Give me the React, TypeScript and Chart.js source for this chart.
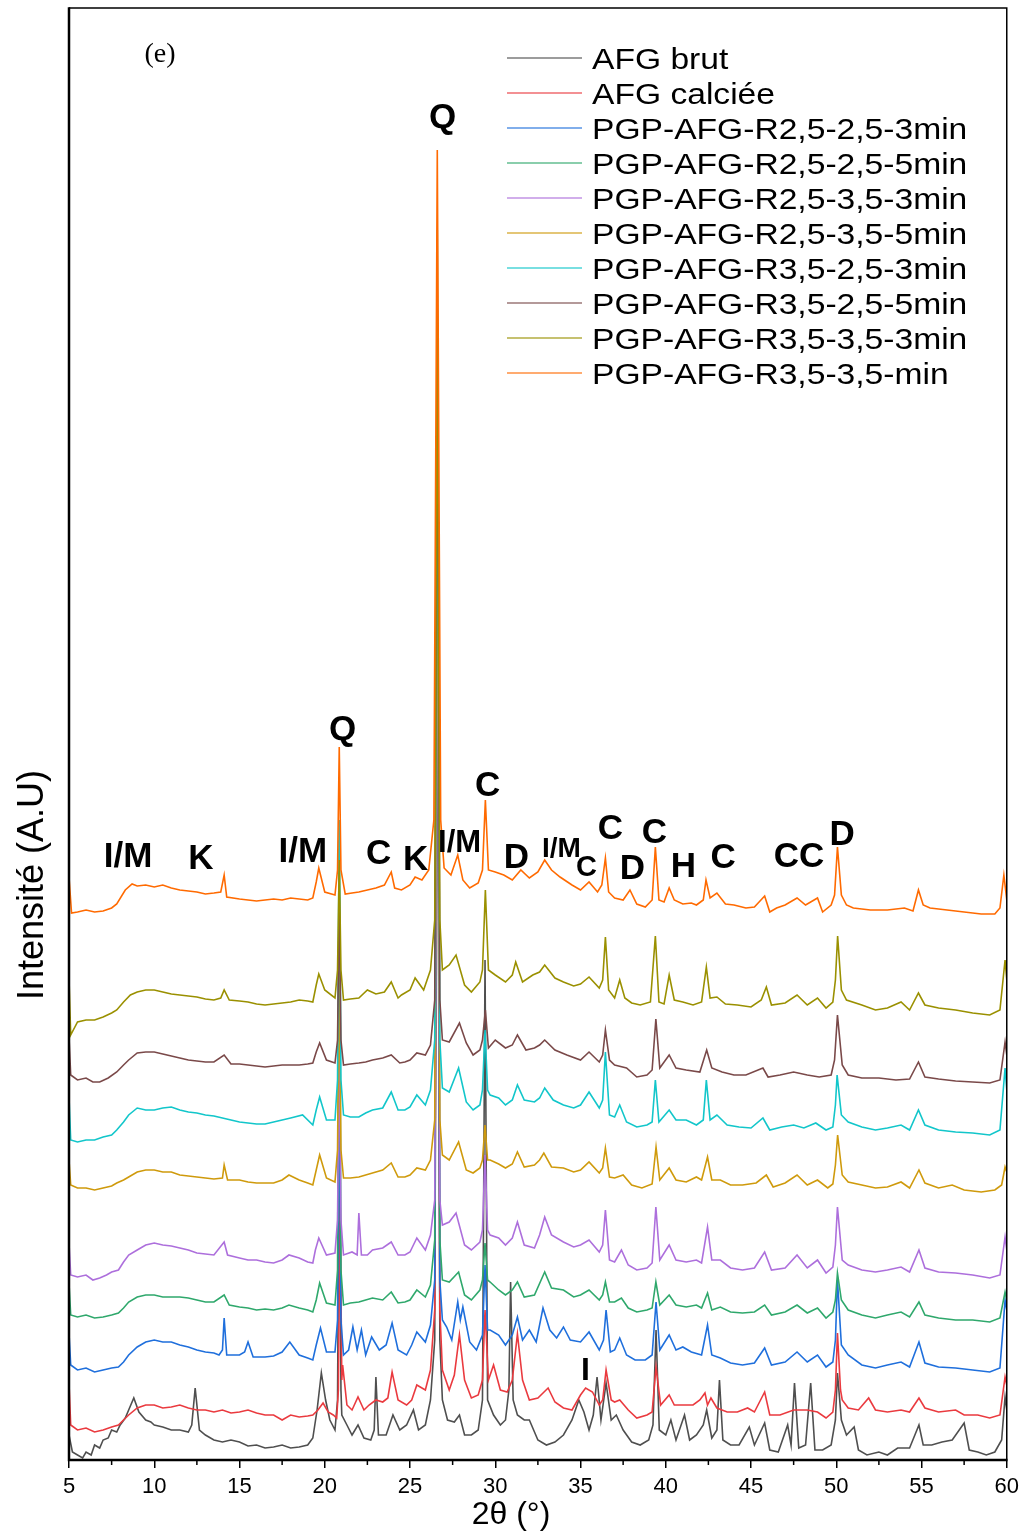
import React, { useEffect, useRef } from 'react';
import { Chart, registerables } from 'chart.js';

Chart.register(...registerables);

// ---------- axis / labels ----------
const X_MIN = 5;
const X_MAX = 60;
const X_STEP = 5;
const X_MINOR = [7.5, 12.5, 17.5, 22.5, 27.5, 32.5, 37.5, 42.5, 47.5, 52.5, 57.5];
const Y_MIN = 0;
const Y_MAX = 1452;
const X_TITLE = '2θ (°)';
const Y_TITLE = 'Intensité (A.U)';
const PANEL_TAG = '(e)';

const SERIES_NAMES = [
  'AFG brut',
  'AFG calciée',
  'PGP-AFG-R2,5-2,5-3min',
  'PGP-AFG-R2,5-2,5-5min',
  'PGP-AFG-R2,5-3,5-3min',
  'PGP-AFG-R2,5-3,5-5min',
  'PGP-AFG-R3,5-2,5-3min',
  'PGP-AFG-R3,5-2,5-5min',
  'PGP-AFG-R3,5-3,5-3min',
  'PGP-AFG-R3,5-3,5-min',
];

const SERIES_COLORS = [
  '#4f4f4f', '#ea3a3f', '#1f6fdc', '#2fa86c', '#ad6fdc',
  '#cf9a0c', '#12c6ca', '#7a4949', '#9a9000', '#ff6a00',
];

// ---------- diffractograms: [2theta, intensity (stacked, a.u.)] ----------
const AFG_BRUT: [number, number][] = [
  [5.0,25],[5.2,8],[5.5,5],[5.8,2],[6.0,8],[6.3,5],[6.5,15],[6.8,12],[7.0,20],[7.3,22],[7.5,30],[7.8,28],[8.0,35],[8.3,42],[8.5,50],[8.8,62],[9.1,48],[9.5,40],[9.8,38],[10.0,35],[10.5,33],[11.0,30],[11.5,30],[12.0,28],[12.2,35],[12.4,72],[12.65,30],[13.0,25],[13.5,20],[14.0,18],[14.5,20],[15.0,18],[15.5,14],[16.0,15],[16.5,12],[17.0,13],[17.5,15],[18.0,12],[18.5,13],[19.0,15],[19.3,22],[19.55,50],[19.8,87],[20.05,60],[20.3,40],[20.6,30],[20.75,60],[20.85,330],[20.95,70],[21.0,45],[21.3,35],[21.6,25],[21.95,35],[22.3,22],[22.7,20],[22.9,30],[23.0,83],[23.15,25],[23.6,25],[24.0,45],[24.4,30],[24.8,35],[25.2,50],[25.5,30],[25.9,35],[26.2,60],[26.45,120],[26.6,880],[26.75,120],[26.9,60],[27.2,40],[27.6,38],[27.9,45],[28.2,25],[28.6,25],[29.0,30],[29.25,60],[29.4,500],[29.55,60],[29.9,45],[30.3,35],[30.6,40],[30.8,70],[30.9,178],[31.05,60],[31.3,45],[31.7,40],[32.0,40],[32.5,20],[33.0,15],[33.5,18],[34.0,25],[34.5,40],[34.9,60],[35.2,48],[35.5,30],[35.75,45],[35.97,83],[36.2,40],[36.5,77],[36.8,40],[37.1,45],[37.5,30],[38.0,18],[38.5,15],[39.0,20],[39.25,35],[39.43,130],[39.62,30],[40.0,25],[40.3,40],[40.6,20],[41.1,45],[41.4,20],[41.8,25],[42.2,35],[42.4,50],[42.7,22],[43.0,30],[43.15,80],[43.35,20],[43.8,15],[44.3,15],[44.9,33],[45.2,15],[45.8,37],[46.1,10],[46.6,8],[47.15,35],[47.35,15],[47.55,77],[47.8,12],[48.2,15],[48.5,77],[48.75,10],[49.2,10],[49.7,15],[49.95,40],[50.07,87],[50.3,40],[50.6,25],[51.05,33],[51.3,10],[51.8,5],[52.5,8],[53.0,5],[53.6,12],[54.3,12],[54.85,35],[55.1,15],[55.6,15],[56.2,18],[56.8,20],[57.5,37],[57.8,10],[58.3,8],[58.8,5],[59.3,8],[59.7,20],[59.9,63],[60,50],
];

const AFG_CALCIEE: [number, number][] = [
  [5.0,77],[5.1,35],[5.5,30],[6.0,32],[6.5,28],[7.0,30],[7.5,33],[7.9,35],[8.2,40],[8.5,45],[9.0,52],[9.5,55],[10.0,55],[10.5,52],[11.0,53],[11.5,55],[12.0,52],[12.5,50],[13.0,50],[13.5,48],[14.0,50],[14.5,47],[15.0,48],[15.5,50],[16.0,47],[16.5,45],[17.0,45],[17.5,40],[18.0,45],[18.5,43],[19.0,44],[19.3,45],[19.6,50],[19.9,57],[20.2,48],[20.5,45],[20.7,42],[20.8,70],[20.9,267],[21.0,80],[21.05,95],[21.3,55],[21.6,50],[21.95,63],[22.3,50],[22.6,55],[23.0,60],[23.4,58],[23.7,62],[23.95,88],[24.3,60],[24.8,55],[25.1,60],[25.4,75],[25.9,70],[26.2,90],[26.45,150],[26.6,950],[26.75,150],[26.9,90],[27.3,70],[27.6,85],[27.9,125],[28.2,80],[28.6,62],[29.0,65],[29.25,80],[29.4,150],[29.6,80],[29.9,95],[30.3,70],[30.7,68],[31.0,80],[31.3,126],[31.6,80],[32.0,60],[32.5,62],[33.1,72],[33.5,58],[34.0,52],[34.5,50],[35.0,65],[35.3,72],[35.7,68],[36.1,55],[36.3,60],[36.5,90],[36.8,60],[37.0,58],[37.3,60],[37.8,50],[38.3,42],[38.9,45],[39.2,48],[39.43,93],[39.7,55],[40.2,65],[40.5,55],[41.0,55],[41.6,55],[42.0,60],[42.3,67],[42.45,55],[42.65,62],[43.0,52],[43.6,48],[44.2,48],[44.8,52],[45.2,48],[45.8,68],[46.1,45],[46.7,45],[47.5,50],[48.3,50],[48.9,48],[49.4,42],[49.8,48],[49.95,70],[50.07,127],[50.25,70],[50.35,60],[50.7,52],[51.3,50],[51.9,62],[52.3,50],[53.0,48],[53.8,50],[54.3,48],[54.85,62],[55.2,52],[56.0,48],[57.0,50],[57.5,45],[58.3,45],[59.0,42],[59.6,45],[59.9,83],[60,75],
];

const R25_25_3: [number, number][] = [
  [5.0,127],[5.1,95],[5.5,90],[6.0,92],[6.5,88],[7.0,90],[7.5,92],[7.9,93],[8.2,98],[8.5,105],[9.0,113],[9.5,118],[10.0,120],[10.5,118],[11.0,118],[11.5,115],[12.0,113],[12.5,110],[13.0,108],[13.5,107],[13.8,105],[14.0,110],[14.1,142],[14.25,105],[15.0,105],[15.3,108],[15.5,118],[15.8,103],[16.5,103],[17.0,104],[17.5,108],[17.95,118],[18.5,105],[19.0,102],[19.3,100],[19.5,115],[19.75,132],[20.1,108],[20.6,108],[20.75,140],[20.85,385],[20.95,140],[21.1,105],[21.4,110],[21.65,133],[21.9,110],[22.15,130],[22.4,105],[22.75,123],[23.2,110],[23.6,115],[23.95,137],[24.3,110],[24.8,105],[25.1,115],[25.4,128],[25.9,118],[26.2,135],[26.45,180],[26.6,1000],[26.75,180],[26.9,140],[27.15,133],[27.45,120],[27.8,158],[27.95,140],[28.1,153],[28.5,118],[28.9,110],[29.25,125],[29.4,195],[29.55,130],[29.7,130],[30.2,125],[30.6,115],[31.0,125],[31.3,143],[31.6,120],[32.0,130],[32.4,118],[32.8,152],[33.2,130],[33.6,122],[34.0,133],[34.4,120],[35.0,118],[35.5,128],[36.1,110],[36.35,120],[36.5,150],[36.75,108],[37.0,110],[37.3,122],[37.7,105],[38.2,100],[38.8,100],[39.2,105],[39.43,158],[39.65,110],[40.2,125],[40.6,110],[41.0,113],[41.5,108],[42.1,105],[42.45,135],[42.7,105],[43.2,102],[43.8,97],[44.5,95],[45.2,97],[45.8,112],[46.2,95],[47.0,98],[47.7,108],[48.3,98],[48.9,105],[49.4,93],[49.8,98],[49.95,120],[50.07,180],[50.3,115],[50.7,105],[51.5,95],[52.3,92],[53.0,95],[53.8,98],[54.3,93],[54.85,118],[55.2,97],[56.0,93],[57.0,92],[58.0,90],[59.0,88],[59.6,92],[59.9,160],[60,150],
];

const R25_25_5: [number, number][] = [
  [5.0,177],[5.1,145],[5.5,143],[6.0,145],[6.5,142],[7.0,143],[7.5,145],[7.9,147],[8.2,152],[8.5,158],[9.0,163],[9.5,165],[10.0,165],[10.5,163],[11.0,163],[11.5,163],[12.0,162],[12.5,160],[13.0,158],[13.5,158],[14.1,165],[14.4,155],[15.0,153],[15.5,152],[16.0,150],[16.5,151],[17.0,150],[17.5,152],[17.9,155],[18.5,152],[19.0,150],[19.3,148],[19.5,160],[19.7,177],[20.1,157],[20.6,155],[20.75,190],[20.85,620],[20.95,190],[21.1,155],[21.5,157],[22.0,158],[22.4,160],[22.8,162],[23.4,160],[23.9,168],[24.3,157],[24.7,158],[25.0,160],[25.4,170],[25.9,163],[26.2,175],[26.45,220],[26.6,1230],[26.75,220],[26.9,180],[27.3,178],[27.85,188],[28.2,165],[28.6,160],[29.1,170],[29.25,180],[29.4,217],[29.55,180],[29.7,178],[30.2,170],[30.6,165],[31.0,170],[31.3,178],[31.7,163],[32.3,165],[32.9,188],[33.3,172],[34.0,170],[34.6,163],[35.0,165],[35.5,170],[36.1,160],[36.3,165],[36.46,178],[36.7,158],[37.0,158],[37.4,162],[37.8,152],[38.3,148],[38.9,150],[39.2,152],[39.42,178],[39.65,155],[40.2,165],[40.6,155],[41.2,153],[41.8,155],[42.1,152],[42.45,167],[42.7,150],[43.2,153],[43.8,148],[44.5,147],[45.2,148],[45.8,155],[46.2,145],[47.0,148],[47.7,155],[48.3,147],[48.9,152],[49.4,142],[49.8,148],[49.95,160],[50.07,187],[50.3,160],[50.7,150],[51.5,145],[52.3,142],[53.0,145],[53.8,148],[54.3,143],[54.85,158],[55.2,145],[56.0,142],[57.0,140],[58.0,140],[59.0,138],[59.6,142],[59.9,168],[60,160],
];

const R25_35_3: [number, number][] = [
  [5.0,217],[5.1,185],[5.5,183],[6.0,185],[6.4,180],[6.8,182],[7.2,185],[7.5,188],[7.9,190],[8.2,198],[8.5,205],[9.0,210],[9.5,215],[10.0,217],[10.5,215],[11.0,214],[11.5,212],[12.0,210],[12.5,207],[13.0,206],[13.5,205],[14.1,218],[14.3,205],[15.0,202],[15.5,200],[16.0,200],[16.5,198],[17.0,197],[17.5,200],[17.9,205],[18.5,202],[19.0,198],[19.3,197],[19.45,210],[19.65,222],[20.1,205],[20.6,207],[20.75,240],[20.85,420],[20.95,240],[21.1,205],[21.6,208],[21.9,205],[22.0,247],[22.15,205],[22.5,205],[22.8,210],[23.4,212],[23.9,218],[24.3,205],[24.7,205],[25.0,208],[25.4,222],[25.9,210],[26.2,225],[26.45,260],[26.6,1000],[26.75,260],[26.9,235],[27.3,238],[27.7,247],[28.2,215],[28.6,210],[29.1,218],[29.25,230],[29.4,305],[29.55,230],[29.7,225],[30.2,222],[30.6,215],[31.0,222],[31.3,238],[31.7,215],[32.3,212],[32.6,225],[32.9,243],[33.3,225],[34.0,218],[34.6,213],[35.0,215],[35.5,220],[36.1,208],[36.3,215],[36.46,250],[36.7,200],[37.0,198],[37.4,210],[37.8,195],[38.3,190],[38.9,192],[39.2,197],[39.42,253],[39.65,200],[40.2,215],[40.6,200],[41.2,198],[41.8,200],[42.1,197],[42.45,233],[42.7,200],[43.2,200],[43.8,192],[44.5,190],[45.2,192],[45.8,208],[46.2,190],[47.0,192],[47.7,205],[48.3,192],[48.9,200],[49.4,187],[49.8,193],[49.95,215],[50.07,253],[50.35,200],[50.7,195],[51.5,190],[52.3,188],[53.0,190],[53.8,193],[54.3,188],[54.85,210],[55.2,192],[56.0,188],[57.0,187],[58.0,185],[59.0,182],[59.6,185],[59.9,223],[60,210],
];

const R25_35_5: [number, number][] = [
  [5.0,300],[5.1,275],[5.5,272],[6.0,272],[6.5,270],[7.0,272],[7.5,274],[7.8,277],[8.2,280],[8.5,283],[9.0,288],[9.5,290],[10.0,290],[10.5,288],[11.0,288],[11.5,285],[12.0,284],[12.5,283],[13.0,282],[13.5,281],[14.0,282],[14.1,295],[14.3,280],[15.0,280],[15.5,278],[16.0,277],[16.5,277],[17.0,277],[17.5,280],[17.9,285],[18.5,280],[19.0,277],[19.3,275],[19.5,290],[19.7,305],[20.1,282],[20.6,278],[20.75,310],[20.85,495],[20.95,310],[21.1,282],[21.5,282],[22.0,283],[22.4,285],[22.8,287],[23.4,290],[23.9,297],[24.3,283],[24.7,283],[25.0,285],[25.4,292],[25.9,290],[26.2,300],[26.45,340],[26.6,1000],[26.75,340],[26.9,305],[27.3,300],[27.85,318],[28.3,290],[28.7,287],[29.1,292],[29.25,300],[29.4,335],[29.55,300],[29.7,300],[30.2,296],[30.6,292],[31.0,296],[31.3,308],[31.7,293],[32.3,295],[32.6,300],[32.85,307],[33.3,293],[34.0,292],[34.6,288],[35.0,290],[35.5,298],[36.1,287],[36.3,292],[36.46,312],[36.7,283],[37.0,282],[37.5,285],[38.0,275],[38.6,272],[39.2,276],[39.43,313],[39.65,280],[40.2,292],[40.6,280],[41.2,278],[41.8,283],[42.1,280],[42.45,303],[42.7,280],[43.2,280],[43.8,275],[44.5,275],[45.3,277],[45.9,285],[46.3,273],[47.0,277],[47.7,285],[48.3,275],[48.9,280],[49.5,272],[49.8,276],[49.95,295],[50.08,325],[50.35,285],[50.7,278],[51.5,275],[52.3,272],[53.0,273],[53.8,278],[54.3,272],[54.85,290],[55.2,277],[56.0,272],[56.8,275],[57.5,270],[58.5,268],[59.3,270],[59.7,275],[59.9,293],[60,288],
];

const R35_25_3: [number, number][] = [
  [5.0,363],[5.1,320],[5.5,318],[6.0,320],[6.5,320],[7.0,323],[7.5,325],[7.8,330],[8.2,338],[8.5,345],[9.0,352],[9.5,350],[10.0,350],[10.5,352],[11.0,353],[11.5,350],[12.0,348],[12.5,347],[13.0,345],[13.5,344],[14.0,342],[14.5,340],[15.0,338],[15.5,337],[16.0,336],[16.5,336],[17.0,338],[17.5,340],[18.0,342],[18.7,345],[19.3,335],[19.5,350],[19.7,363],[20.1,340],[20.6,340],[20.75,380],[20.85,640],[20.95,380],[21.1,345],[21.5,343],[22.0,343],[22.4,347],[22.8,350],[23.4,352],[23.9,368],[24.3,350],[24.7,350],[25.0,353],[25.4,365],[25.9,355],[26.2,370],[26.45,420],[26.6,1100],[26.75,420],[26.9,372],[27.3,368],[27.85,392],[28.3,358],[28.7,350],[29.1,355],[29.25,370],[29.4,430],[29.55,370],[29.7,365],[30.2,362],[30.6,355],[31.0,360],[31.3,375],[31.7,360],[32.3,358],[32.6,362],[32.9,372],[33.4,360],[34.0,355],[34.6,352],[35.0,355],[35.5,368],[36.1,352],[36.3,360],[36.46,408],[36.7,345],[37.0,343],[37.3,355],[37.7,338],[38.3,333],[38.9,335],[39.2,338],[39.39,380],[39.6,338],[40.2,350],[40.6,340],[41.2,340],[41.8,335],[42.2,340],[42.38,380],[42.6,340],[43.0,345],[43.6,335],[44.3,333],[45.0,332],[45.7,342],[46.1,330],[46.8,333],[47.5,335],[48.1,332],[48.8,337],[49.4,330],[49.8,333],[49.95,355],[50.05,385],[50.3,345],[50.7,338],[51.5,333],[52.3,330],[53.0,332],[53.8,335],[54.3,330],[54.82,350],[55.2,335],[56.0,330],[57.0,328],[58.0,327],[59.0,325],[59.6,330],[59.9,392],[60,370],
];

const R35_25_5: [number, number][] = [
  [5.0,423],[5.1,385],[5.5,380],[6.0,382],[6.4,378],[6.8,378],[7.3,382],[7.8,388],[8.2,395],[8.5,400],[9.0,407],[9.5,408],[10.0,408],[10.5,406],[11.0,404],[11.5,402],[12.0,400],[12.5,399],[13.0,398],[13.5,398],[14.1,405],[14.5,396],[15.0,396],[15.5,395],[16.0,394],[16.5,393],[17.0,394],[17.5,395],[18.0,395],[18.5,395],[19.0,396],[19.3,397],[19.5,408],[19.7,417],[20.1,400],[20.6,397],[20.75,420],[20.85,563],[20.95,420],[21.1,395],[21.5,396],[22.0,397],[22.4,398],[22.8,400],[23.4,402],[23.9,405],[24.4,397],[24.7,398],[25.0,400],[25.4,407],[25.9,405],[26.2,415],[26.45,460],[26.6,1150],[26.75,460],[26.9,420],[27.3,418],[27.9,437],[28.3,417],[28.7,405],[29.1,410],[29.25,420],[29.42,450],[29.6,412],[30.0,420],[30.6,412],[31.0,415],[31.3,425],[31.8,410],[32.3,412],[32.6,415],[32.9,420],[33.5,410],[34.2,405],[35.0,400],[35.5,408],[36.1,398],[36.3,405],[36.46,430],[36.7,400],[37.0,395],[37.7,392],[38.3,383],[38.9,385],[39.2,390],[39.42,441],[39.65,392],[40.2,405],[40.6,392],[41.2,390],[42.0,388],[42.4,410],[42.7,392],[43.3,388],[44.0,385],[44.7,385],[45.7,392],[46.0,383],[46.7,385],[47.5,388],[48.3,385],[49.0,383],[49.7,385],[49.9,400],[50.07,445],[50.35,395],[50.7,385],[51.5,382],[52.5,382],[53.5,380],[54.3,381],[54.82,398],[55.2,383],[56.0,381],[57.0,379],[58.0,378],[59.0,377],[59.6,380],[59.9,418],[60,405],
];

const R35_35_3: [number, number][] = [
  [5.0,482],[5.1,425],[5.5,438],[6.0,440],[6.5,440],[7.0,443],[7.5,447],[7.8,450],[8.2,458],[8.6,465],[9.0,468],[9.5,470],[10.0,470],[10.5,468],[11.0,466],[11.5,465],[12.0,464],[12.5,463],[13.0,461],[13.5,460],[13.9,462],[14.1,470],[14.4,460],[15.0,459],[15.5,458],[16.0,456],[16.5,455],[17.0,456],[17.5,457],[18.0,458],[18.5,460],[19.0,459],[19.3,458],[19.5,475],[19.65,486],[20.0,470],[20.6,462],[20.75,490],[20.85,600],[20.95,490],[21.1,460],[21.5,461],[22.0,462],[22.5,470],[23.0,466],[23.5,468],[23.9,478],[24.3,462],[24.5,465],[25.0,470],[25.3,482],[25.8,470],[26.2,490],[26.45,540],[26.6,1150],[26.75,540],[26.9,490],[27.3,495],[27.7,505],[28.2,475],[28.6,468],[29.1,478],[29.25,490],[29.42,570],[29.6,490],[30.0,485],[30.6,478],[31.0,485],[31.2,498],[31.6,478],[32.2,485],[32.6,488],[32.9,495],[33.5,482],[34.0,478],[34.6,474],[35.0,476],[35.5,483],[36.1,472],[36.3,480],[36.46,523],[36.65,470],[37.0,462],[37.3,480],[37.6,462],[38.0,457],[38.5,455],[39.1,458],[39.39,524],[39.6,458],[39.9,456],[40.2,485],[40.5,460],[41.0,458],[41.6,455],[42.1,458],[42.38,493],[42.6,462],[43.0,463],[43.5,456],[44.2,455],[45.0,453],[45.6,460],[45.9,473],[46.2,455],[47.0,457],[47.7,465],[48.3,455],[48.9,462],[49.4,452],[49.8,458],[49.95,480],[50.08,524],[50.3,470],[50.6,460],[51.5,455],[52.3,450],[53.0,452],[53.8,458],[54.3,450],[54.82,467],[55.2,455],[56.0,452],[57.0,450],[58.0,447],[59.0,445],[59.6,450],[59.9,500],[60,480],
];

const R35_35_MIN: [number, number][] = [
  [5.0,583],[5.15,547],[5.5,548],[6.0,550],[6.5,548],[7.0,549],[7.5,552],[7.8,556],[8.3,570],[8.7,576],[9.0,574],[9.5,575],[10.0,573],[10.5,575],[11.0,572],[11.5,570],[12.0,569],[12.5,568],[13.0,566],[13.5,567],[13.9,568],[14.1,585],[14.25,563],[15.0,561],[15.5,560],[16.0,559],[16.5,560],[17.0,561],[17.5,560],[18.0,562],[18.5,561],[19.0,560],[19.3,562],[19.5,578],[19.65,592],[20.0,568],[20.6,565],[20.75,590],[20.85,713],[20.95,590],[21.2,566],[21.6,567],[22.0,568],[22.5,570],[23.0,572],[23.5,575],[23.9,588],[24.1,572],[24.5,570],[25.0,575],[25.3,583],[25.7,580],[26.1,590],[26.4,640],[26.6,1310],[26.8,640],[27.0,592],[27.4,585],[27.8,605],[28.1,580],[28.5,572],[29.0,577],[29.25,590],[29.42,660],[29.6,590],[30.0,588],[30.5,585],[31.0,580],[31.5,590],[32.0,582],[32.5,588],[32.9,600],[33.3,590],[33.8,583],[34.5,575],[35.0,570],[35.5,578],[36.0,568],[36.25,575],[36.46,602],[36.65,568],[37.0,562],[37.5,560],[37.9,570],[38.3,556],[38.8,553],[39.2,560],[39.39,613],[39.6,560],[39.9,558],[40.2,572],[40.5,560],[41.0,556],[41.5,557],[41.8,555],[42.2,560],[42.36,580],[42.6,562],[43.0,567],[43.5,556],[44.0,555],[44.7,552],[45.2,553],[45.8,564],[46.1,548],[46.5,552],[47.0,555],[47.7,562],[48.2,555],[48.9,562],[49.2,548],[49.7,555],[49.9,565],[50.07,613],[50.3,565],[50.6,555],[51.0,552],[52.0,550],[53.0,550],[54.0,552],[54.5,549],[54.82,570],[55.1,555],[55.5,552],[56.5,550],[57.5,548],[58.5,546],[59.3,546],[59.6,552],[59.83,585],[60,560],
];

// ---------- phase labels: [text, 2theta, intensity, font size] ----------
const PHASE_LABELS: [string, number, number, number][] = [
  ['Q', 26.91, 1342, 35],
  ['Q', 21.05, 730, 35],
  ['C', 29.55, 674, 35],
  ['I/M', 8.46, 603, 35],
  ['K', 12.73, 601, 35],
  ['I/M', 18.71, 608, 35],
  ['C', 23.16, 606, 35],
  ['K', 25.33, 600, 35],
  ['I/M', 27.91, 617, 31],
  ['D', 31.24, 602, 35],
  ['I/M', 33.88, 611, 28],
  ['C', 35.35, 592, 29],
  ['C', 36.75, 631, 35],
  ['D', 38.04, 591, 35],
  ['C', 39.33, 627, 35],
  ['H', 41.03, 593, 35],
  ['C', 43.37, 602, 35],
  ['CC', 47.82, 603, 35],
  ['D', 50.34, 625, 35],
  ['I', 35.29, 89, 32],
];

const SANS = '"Liberation Sans", Arial, "DejaVu Sans", sans-serif';
const SERIF = '"Liberation Serif", "Times New Roman", serif';

const decorPlugin = {
  id: 'decor',
  afterDatasetsDraw(chart: any) {
    const { ctx, chartArea: a, scales } = chart;
    const xs = scales.x;
    const ys = scales.y;
    ctx.save();

    // frame
    ctx.strokeStyle = '#000';
    ctx.lineWidth = 1.5;
    ctx.beginPath();
    ctx.moveTo(a.left, a.top);
    ctx.lineTo(a.right, a.top);
    ctx.lineTo(a.right, a.bottom);
    ctx.stroke();
    ctx.lineWidth = 2.5;
    ctx.beginPath();
    ctx.moveTo(a.left, a.top - 0.75);
    ctx.lineTo(a.left, a.bottom);
    ctx.lineTo(a.right + 0.75, a.bottom);
    ctx.stroke();

    // minor ticks
    ctx.lineWidth = 1.5;
    X_MINOR.forEach((v) => {
      const px = xs.getPixelForValue(v);
      ctx.beginPath();
      ctx.moveTo(px, a.bottom);
      ctx.lineTo(px, a.bottom + 5);
      ctx.stroke();
    });

    // phase labels
    ctx.fillStyle = '#000';
    ctx.textAlign = 'center';
    ctx.textBaseline = 'middle';
    PHASE_LABELS.forEach(([t, x, y, fs]) => {
      ctx.font = `bold ${fs}px ${SANS}`;
      ctx.fillText(t, xs.getPixelForValue(x), ys.getPixelForValue(y));
    });

    // panel tag
    ctx.font = `28px ${SERIF}`;
    ctx.fillText(PANEL_TAG, a.left + 91, a.top + 47);

    // legend
    ctx.textAlign = 'left';
    ctx.textBaseline = 'alphabetic';
    SERIES_NAMES.forEach((name, i) => {
      const y = a.top + 50 + i * 35;
      ctx.strokeStyle = SERIES_COLORS[i];
      ctx.globalAlpha = 0.75;
      ctx.lineWidth = 1.5;
      ctx.beginPath();
      ctx.moveTo(a.left + 438, y);
      ctx.lineTo(a.left + 513, y);
      ctx.stroke();
      ctx.globalAlpha = 1;
      ctx.save();
      ctx.translate(a.left + 523, y + 10.5);
      ctx.scale(1.12, 1);
      ctx.font = `30px ${SANS}`;
      ctx.fillStyle = '#000';
      ctx.fillText(name, 0, 0);
      ctx.restore();
    });

    // axis titles
    ctx.fillStyle = '#000';
    ctx.textAlign = 'center';
    ctx.textBaseline = 'middle';
    ctx.font = `32px ${SANS}`;
    ctx.fillText(X_TITLE, a.left + 442, a.bottom + 55);

    ctx.save();
    ctx.translate(33, (a.top + a.bottom) / 2 + 151);
    ctx.rotate(-Math.PI / 2);
    ctx.font = `36px ${SANS}`;
    ctx.fillText(Y_TITLE, 0, 0);
    ctx.restore();

    ctx.restore();
  },
};

export default function App() {
  const ref = useRef<HTMLCanvasElement>(null);

  useEffect(() => {
    const canvas = ref.current;
    if (!canvas) return;
    const all = [
      AFG_BRUT, AFG_CALCIEE, R25_25_3, R25_25_5, R25_35_3,
      R25_35_5, R35_25_3, R35_25_5, R35_35_3, R35_35_MIN,
    ];
    const datasets = all.map((s, i) => ({
      label: SERIES_NAMES[i],
      data: s.map(([x, y]) => ({ x, y })),
      borderColor: SERIES_COLORS[i],
      backgroundColor: SERIES_COLORS[i],
      borderWidth: 1.6,
      pointRadius: 0,
      tension: 0,
      fill: false,
      order: all.length - 1 - i,
    }));

    const chart = new Chart(canvas, {
      type: 'line',
      data: { datasets },
      options: {
        responsive: false,
        maintainAspectRatio: false,
        devicePixelRatio: 1,
        animation: false,
        layout: { padding: { left: 69, right: 17, top: 8, bottom: 0 } },
        plugins: { legend: { display: false }, tooltip: { enabled: false } },
        scales: {
          x: {
            type: 'linear',
            min: X_MIN,
            max: X_MAX,
            border: { display: false },
            grid: {
              display: true,
              drawOnChartArea: false,
              drawTicks: true,
              tickLength: 8,
              color: '#000',
              lineWidth: 1.5,
            },
            ticks: {
              stepSize: X_STEP,
              autoSkip: false,
              maxRotation: 0,
              padding: 6,
              color: '#000',
              font: { family: SANS, size: 22 },
            },
            afterFit: (s: any) => { s.height = 72; },
          },
          y: {
            type: 'linear',
            display: false,
            min: Y_MIN,
            max: Y_MAX,
          },
        },
      },
      plugins: [decorPlugin],
    });
    return () => chart.destroy();
  }, []);

  return (
    <div style={{ position: 'fixed', left: 0, top: 0, width: 1025, height: 1532, background: '#fff' }}>
      <canvas ref={ref} width={1025} height={1532} style={{ display: 'block' }} />
    </div>
  );
}
